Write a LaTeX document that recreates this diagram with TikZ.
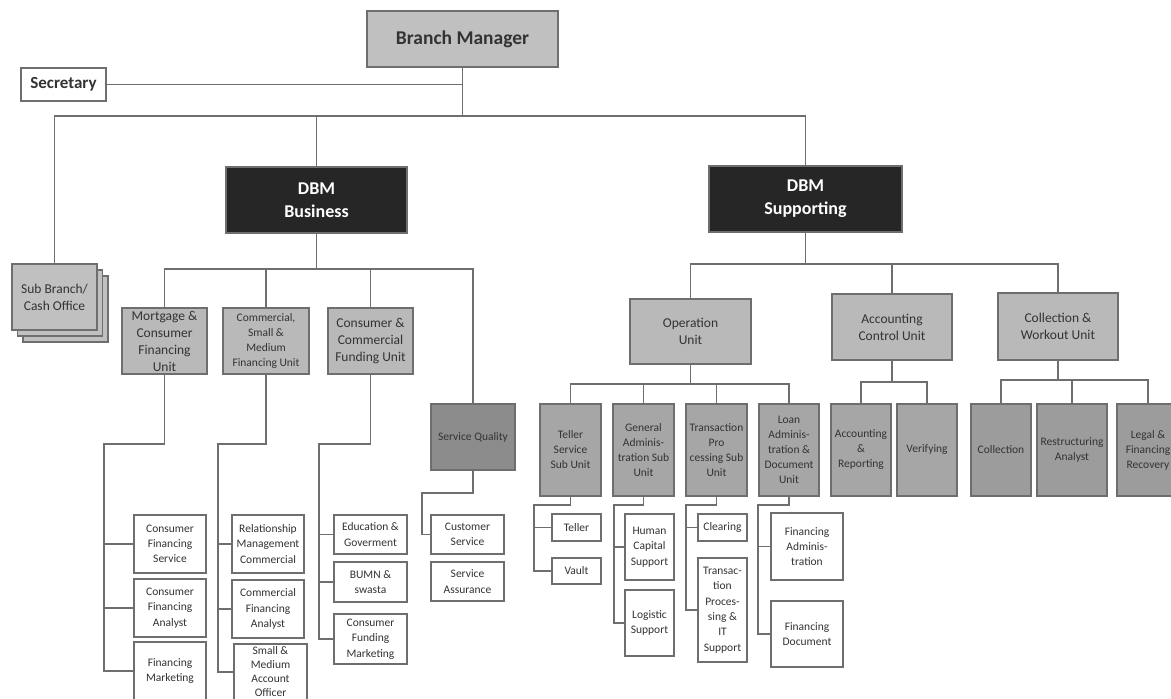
\documentclass[tikz,border=0pt]{standalone}
\usepackage{fontspec}
\setmainfont{Carlito}
\usetikzlibrary{shadows}
\definecolor{linegray}{HTML}{6E6E6E}
\definecolor{boxgray}{HTML}{C0C0C0}
\definecolor{unitgray}{HTML}{B9B9B9}
\definecolor{subgray}{HTML}{A6A6A6}
\definecolor{colgray}{HTML}{9C9C9C}
\definecolor{sqgray}{HTML}{8C8C8C}
\definecolor{dbmblack}{HTML}{262626}
\definecolor{textgray}{HTML}{333333}
\begin{document}
\begin{tikzpicture}[x=1pt,y=-1pt]
\tikzstyle{box} = [rectangle, draw=linegray, line width=1.2pt, align=center, inner sep=0pt, text=textgray]
\tikzstyle{topbox} = [box, fill=boxgray, font=\bfseries\fontsize{19.5}{23}\selectfont]
\tikzstyle{secbox} = [box, fill=white, font=\bfseries\fontsize{17}{20}\selectfont]
\tikzstyle{dbmbox} = [box, fill=dbmblack, text=white, font=\bfseries\fontsize{18}{23}\selectfont]
\tikzstyle{unitbox} = [box, fill=unitgray, font=\fontsize{13.5}{17}\selectfont]
\tikzstyle{smallunit} = [box, fill=unitgray, font=\fontsize{11.5}{15}\selectfont]
\tikzstyle{subbox} = [box, fill=subgray, font=\fontsize{11.5}{15}\selectfont]
\tikzstyle{leaf} = [box, fill=white, font=\fontsize{11.5}{15.3}\selectfont]
\tikzstyle{conn} = [draw=linegray, line width=1.3pt]
\useasboundingbox (0,0) rectangle (1171,699);
% top level
\node[topbox, minimum width=191, minimum height=56] (bm) at (462.5,39) {Branch Manager};
\node[secbox, minimum width=85, minimum height=33] (sec) at (63.5,84.5) {Secretary};
\node[unitbox, fill=boxgray, minimum width=85, minimum height=66,
  copy shadow={shadow xshift=11pt, shadow yshift=-12pt, fill=boxgray, draw=linegray, line width=1.2pt},
  copy shadow={shadow xshift=5.5pt, shadow yshift=-6pt, fill=boxgray, draw=linegray, line width=1.2pt}]
  (sb) at (54.5,297) {Sub Branch/\\Cash Office};
\node[dbmbox, minimum width=181, minimum height=66] (dbmb) at (316.5,200) {DBM\\Business};
\node[dbmbox, minimum width=193, minimum height=66] (dbms) at (805.5,199) {DBM\\Supporting};
% business side
\node[unitbox, minimum width=85, minimum height=66] (mcf) at (164.5,341) {Mortgage \&\\Consumer\\Financing\\Unit};
\node[smallunit, minimum width=86, minimum height=66] (csm) at (266,341) {Commercial,\\Small \&\\Medium\\Financing Unit};
\node[unitbox, minimum width=85, minimum height=66] (ccf) at (370.5,341) {Consumer \&\\Commercial\\Funding Unit};
\node[subbox, fill=sqgray, minimum width=84, minimum height=66] (sq) at (473,437) {Service Quality};
\node[leaf, minimum width=72, minimum height=58] (cfs) at (170,544) {Consumer\\Financing\\Service};
\node[leaf, minimum width=72, minimum height=58] (cfa) at (170,608) {Consumer\\Financing\\Analyst};
\node[leaf, minimum width=72, minimum height=58] (fmk) at (170,671) {Financing\\Marketing};
\node[leaf, minimum width=72, minimum height=58] (rmc) at (268,544) {Relationship\\Management\\Commercial};
\node[leaf, minimum width=72, minimum height=58] (cfan) at (268,609) {Commercial\\Financing\\Analyst};
\node[leaf, font=\fontsize{11.5}{14}\selectfont, minimum width=73, minimum height=56] (sma) at (270.5,672) {Small \&\\Medium\\Account\\Officer};
\node[leaf, minimum width=73, minimum height=39] (edu) at (370.5,534.5) {Education \&\\Goverment};
\node[leaf, minimum width=73, minimum height=40] (bum) at (370.5,582) {BUMN \&\\swasta};
\node[leaf, minimum width=73, minimum height=50] (cfm) at (370.5,639) {Consumer\\Funding\\Marketing};
\node[leaf, minimum width=73, minimum height=39] (cs) at (467.5,534.5) {Customer\\Service};
\node[leaf, minimum width=73, minimum height=39] (sa) at (467.5,581.5) {Service\\Assurance};
% supporting side
\node[unitbox, minimum width=121, minimum height=65] (ops) at (690.5,331.5) {Operation\\Unit};
\node[unitbox, minimum width=120, minimum height=66] (acu) at (892,327) {Accounting\\Control Unit};
\node[unitbox, minimum width=120, minimum height=67] (cwu) at (1058,326.5) {Collection \&\\Workout Unit};
\node[subbox, minimum width=61, minimum height=92] (tss) at (570.5,450) {Teller\\Service\\Sub Unit};
\node[subbox, minimum width=61, minimum height=92] (gas) at (643.5,450) {General\\Adminis-\\tration Sub\\Unit};
\node[subbox, minimum width=61, minimum height=92] (tps) at (716.5,450) {Transaction\\Pro\\cessing Sub\\Unit};
\node[subbox, minimum width=60, minimum height=92] (lad) at (789,450) {Loan\\Adminis-\\tration \&\\Document\\Unit};
\node[subbox, minimum width=60, minimum height=92] (acr) at (861,450) {Accounting\\\&\\Reporting};
\node[subbox, minimum width=60, minimum height=92] (ver) at (927,450) {Verifying};
\node[subbox, fill=colgray, minimum width=60, minimum height=92] (col) at (1001,450) {Collection};
\node[subbox, fill=colgray, minimum width=70, minimum height=92] (rsa) at (1072,450) {Restructuring\\Analyst};
\node[subbox, fill=colgray, minimum width=62, minimum height=92] (lfr) at (1148,450) {Legal \&\\Financing\\Recovery};
\node[leaf, minimum width=49, minimum height=27] (tel) at (576.5,527.5) {Teller};
\node[leaf, minimum width=49, minimum height=26] (vlt) at (576.5,571) {Vault};
\node[leaf, minimum width=49, minimum height=66] (hcs) at (649.5,547) {Human\\Capital\\Support};
\node[leaf, minimum width=49, minimum height=66] (lgs) at (649.5,623) {Logistic\\Support};
\node[leaf, minimum width=49, minimum height=27] (clr) at (722.5,527.5) {Clearing};
\node[leaf, minimum width=49, minimum height=104] (tpi) at (722.5,610) {Transac-\\tion\\Proces-\\sing \&\\IT\\Support};
\node[leaf, minimum width=72, minimum height=67] (fad) at (807,546.5) {Financing\\Adminis-\\tration};
\node[leaf, minimum width=72, minimum height=66] (fdc) at (807,634) {Financing\\Document};
% connectors
\coordinate (top) at (462.5,116);
\coordinate (bbus) at (316.5,269);
\coordinate (sbus) at (805.5,264);
\coordinate (obus) at (690.5,384);
\coordinate (abus) at (892,382);
\coordinate (cbus) at (1058,380);
\draw[conn] (sec.east) -- (sec.east -| bm.south);
\draw[conn] (bm.south) -- (top);
\draw[conn] (sb.north) |- (top) -| (dbms.north);
\draw[conn] (dbmb.north) -- (dbmb.north |- top);
\draw[conn] (dbmb.south) -- (bbus);
\draw[conn] (mcf.north) |- (bbus) -| (sq.north);
\foreach \n in {csm,ccf} \draw[conn] (\n.north) -- (\n.north |- bbus);
\draw[conn] (dbms.south) -- (sbus);
\draw[conn] (ops.north) |- (sbus) -| (cwu.north);
\draw[conn] (acu.north) -- (acu.north |- sbus);
\draw[conn] (ops.south) -- (obus);
\draw[conn] (tss.north) |- (obus) -| (lad.north);
\foreach \n in {gas,tps} \draw[conn] (\n.north) -- (\n.north |- obus);
\draw[conn] (acu.south) -- (abus);
\draw[conn] (acr.north) |- (abus) -| (ver.north);
\draw[conn] (cwu.south) -- (cbus);
\draw[conn] (col.north) |- (cbus) -| (lfr.north);
\draw[conn] (rsa.north) -- (rsa.north |- cbus);
% branches down to the leaves
\coordinate (mcfk) at (104,444);
\coordinate (csmk) at (218,444);
\coordinate (ccfk) at (319,444);
\coordinate (sqk) at (422,493);
\coordinate (tssk) at (534,505);
\coordinate (gask) at (614,505);
\coordinate (tpsk) at (686,505);
\coordinate (ladk) at (758,505);
\draw[conn] (mcf.south) |- (mcfk) |- (fmk.west);
\foreach \n in {cfs,cfa} \draw[conn] (\n.west) -- (\n.west -| mcfk);
\draw[conn] (csm.south) |- (csmk) |- (sma.west);
\foreach \n in {rmc,cfan} \draw[conn] (\n.west) -- (\n.west -| csmk);
\draw[conn] (ccf.south) |- (ccfk) |- (cfm.west);
\foreach \n in {edu,bum} \draw[conn] (\n.west) -- (\n.west -| ccfk);
\draw[conn] (sq.south) |- (sqk) |- (cs.west);
\draw[conn] (tss.south) |- (tssk) |- (vlt.west);
\draw[conn] (tel.west) -- (tel.west -| tssk);
\draw[conn] (gas.south) |- (gask) |- (lgs.west);
\draw[conn] (hcs.west) -- (hcs.west -| gask);
\draw[conn] (tps.south) |- (tpsk) |- (tpi.west);
\draw[conn] (clr.west) -- (clr.west -| tpsk);
\draw[conn] (lad.south) |- (ladk) |- (fdc.west);
\draw[conn] (fad.west) -- (fad.west -| ladk);
\end{tikzpicture}
\end{document}
